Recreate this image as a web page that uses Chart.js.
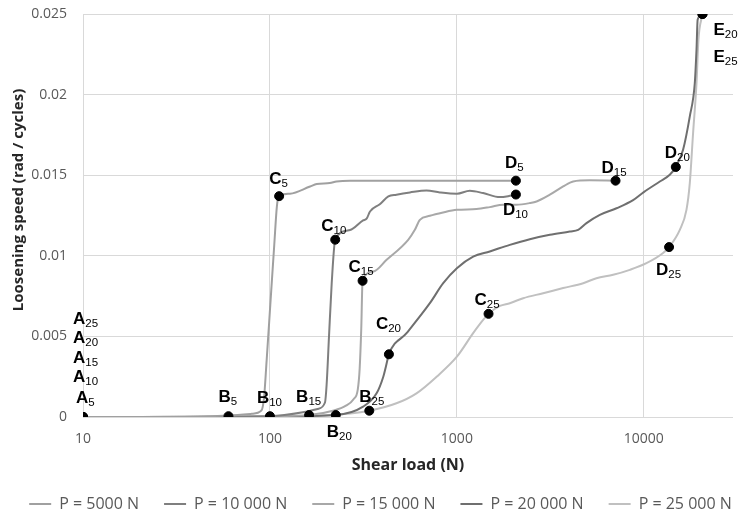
<!DOCTYPE html>
<html>
<head>
<meta charset="utf-8">
<script src="https://cdn.jsdelivr.net/npm/chart.js@4.4.1/dist/chart.umd.min.js"></script>
<style>
  html, body { margin: 0; padding: 0; background: #fff; }
</style>
</head>
<body>
<canvas id="loosening" width="741" height="515"></canvas>
<script>
/* data: shear load (N) vs loosening speed (rad / cycles) */
const seriesNames = ['P = 5000 N', 'P = 10 000 N', 'P = 15 000 N', 'P = 20 000 N', 'P = 25 000 N'];

const load5000 = [10, 30, 60, 80, 90, 93, 96, 100.5, 105.5, 109, 112, 128, 164, 178, 209, 227, 268, 500, 1000, 2069];
const speed5000 = [0, 0, 0.0001, 0.0002, 0.0004, 0.0012, 0.0035, 0.007, 0.0107, 0.0131, 0.0137, 0.01385, 0.0143, 0.01445, 0.01451, 0.01461, 0.01466, 0.01466, 0.01466, 0.01466];

const load10000 = [10, 20, 50, 100, 150, 180, 197, 201, 207, 214, 223.5, 268, 315, 329, 343, 387, 430, 475, 561, 688, 811, 1000, 1173, 1382, 1698, 1920, 2069];
const speed10000 = [0, 0, 0, 0.00005, 0.0003, 0.0005, 0.0009, 0.002, 0.005, 0.0083, 0.011, 0.0116, 0.0122, 0.0123, 0.01275, 0.0132, 0.01368, 0.01379, 0.01393, 0.01405, 0.01393, 0.01385, 0.01403, 0.01389, 0.01364, 0.01372, 0.0138];

const load15000 = [10, 20, 100, 162, 220, 255, 280, 295, 302, 308, 313, 357, 421, 549, 596, 634, 717, 845, 1000, 1274, 1500, 1769, 2080, 2455, 2670, 3143, 3704, 4190, 5142, 7060];
const speed15000 = [0, 0, 0.00005, 0.00012, 0.0004, 0.0007, 0.0011, 0.0017, 0.003, 0.0055, 0.00845, 0.00902, 0.00975, 0.01099, 0.01161, 0.01223, 0.01248, 0.01269, 0.01285, 0.0129, 0.01302, 0.01317, 0.01317, 0.01327, 0.01337, 0.01379, 0.0143, 0.01461, 0.01468, 0.01466];

const load20000 = [10, 20, 100, 225, 315, 372, 404, 417, 433, 538, 717, 845, 1000, 1222, 1500, 1920, 2455, 3143, 4020, 4456, 4935, 5817, 7145, 8766, 10000, 12180, 13770, 14830, 16220, 17620, 18740, 19140, 19410, 20600];
const speed20000 = [0, 0, 0.00003, 0.00012, 0.00064, 0.00147, 0.0025, 0.00312, 0.00389, 0.0052, 0.00706, 0.0083, 0.00923, 0.00995, 0.01027, 0.01068, 0.01103, 0.0113, 0.01151, 0.01161, 0.01203, 0.01254, 0.01295, 0.01345, 0.01395, 0.01461, 0.01503, 0.01551, 0.01658, 0.01865, 0.02072, 0.02279, 0.02465, 0.025];

const load25000 = [10, 20, 100, 200, 340, 475, 608, 779, 1000, 1222, 1382, 1477, 1698, 1920, 2263, 2894, 3704, 4738, 5578, 6854, 8414, 10330, 12680, 13650, 15580, 16910, 17620, 18350, 19140, 19600, 20600];
const speed25000 = [0, 0, 0.00003, 0.0001, 0.00039, 0.00085, 0.00147, 0.0025, 0.00374, 0.0052, 0.00602, 0.0064, 0.00689, 0.00706, 0.00737, 0.00768, 0.008, 0.0083, 0.00861, 0.00882, 0.00913, 0.00954, 0.01017, 0.01054, 0.01161, 0.01285, 0.01451, 0.01762, 0.02072, 0.02341, 0.025];

// marked points A..E with their subscripts
const keyLetters = ['A', 'A', 'A', 'A', 'A', 'B', 'B', 'B', 'B', 'B', 'C', 'C', 'C', 'C', 'C', 'D', 'D', 'D', 'D', 'D', 'E', 'E'];
const keySubs = ['5', '10', '15', '20', '25', '5', '10', '15', '20', '25', '5', '10', '15', '20', '25', '5', '10', '15', '20', '25', '20', '25'];
const keyLoads = [10, 10, 10, 10, 10, 60, 100, 162, 225, 340, 112, 223.5, 313, 433, 1477, 2069, 2069, 7060, 14830, 13650, 20600, 20600];
const keySpeeds = [0, 0, 0, 0, 0, 0.00005, 0.00005, 0.00012, 0.00012, 0.00039, 0.0137, 0.011, 0.00845, 0.00389, 0.0064, 0.01466, 0.0138, 0.01466, 0.01551, 0.01054, 0.025, 0.025];

const xTicks = [10, 100, 1000, 10000];
const yTicks = [0, 0.005, 0.01, 0.015, 0.02, 0.025];

/* styling */
const lineColors = ['#a0a0a0', '#7f7f7f', '#a8a8a8', '#6f6f6f', '#c0c0c0'];
// label offset from its dot: [dx to letter left, dy to baseline]
const labelOffsets = [
    [-7, -14], [-10, -35], [-10, -54], [-10, -74], [-10, -93],
    [-10, -14], [-13, -13], [-13, -13], [-9, 22], [-10, -9],
    [-10, -12], [-14, -9], [-14, -9], [-13, -25], [-14, -9],
    [-11, -13], [-13, 20], [-14, -8], [-11, -9], [-13, 28],
    [11, 21], [11, 48]
];

function zipXY(xs, ys) {
    return xs.map((v, i) => ({x: v, y: ys[i]}));
}

const loads = [load5000, load10000, load15000, load20000, load25000];
const speeds = [speed5000, speed10000, speed15000, speed20000, speed25000];

const datasets = seriesNames.map((name, i) => ({
    type: 'line',
    label: name,
    data: zipXY(loads[i], speeds[i]),
    borderColor: lineColors[i],
    backgroundColor: lineColors[i],
    borderWidth: 2,
    pointRadius: 0,
    pointBorderWidth: 2,
    cubicInterpolationMode: 'monotone',
    order: 0
}));

datasets.push({
    type: 'scatter',
    label: 'points',
    data: zipXY(keyLoads, keySpeeds),
    pointRadius: 4.5,
    backgroundColor: '#000',
    borderColor: '#000',
    order: -1
});

/* letters with subscripts next to the dots */
const pointLabels = {
    id: 'pointLabels',
    afterDatasetsDraw(chart) {
        const {ctx, scales: {x, y}} = chart;
        ctx.save();
        ctx.fillStyle = '#000';
        ctx.textAlign = 'left';
        ctx.textBaseline = 'alphabetic';
        keyLetters.forEach((letter, i) => {
            const px = x.getPixelForValue(keyLoads[i]) + labelOffsets[i][0];
            const py = y.getPixelForValue(keySpeeds[i]) + labelOffsets[i][1];
            ctx.font = 'bold 17px "Liberation Sans", Arial, sans-serif';
            ctx.fillText(letter, px, py);
            const w = ctx.measureText(letter).width;
            ctx.font = '11.5px "Liberation Sans", Arial, sans-serif';
            ctx.fillText(keySubs[i], px + w, py + 3);
        });
        ctx.restore();
    }
};

/* y title drawn by hand so it sits where the original has it */
const yTitle = {
    id: 'yTitle',
    afterDraw(chart) {
        const ctx = chart.ctx;
        ctx.save();
        ctx.translate(18.5, 200);
        ctx.rotate(-Math.PI / 2);
        ctx.textAlign = 'center';
        ctx.textBaseline = 'middle';
        ctx.fillStyle = '#262626';
        ctx.font = 'bold 15px "Open Sans", sans-serif';
        ctx.fillText('Loosening speed (rad / cycles)', 0, 0);
        ctx.restore();
    }
};

new Chart(document.getElementById('loosening'), {
    data: {datasets: datasets},
    options: {
        responsive: false,
        devicePixelRatio: 1,
        animation: false,
        events: [],
        // negative right padding widens the legend row; yRight keeps the plot edge
        layout: {padding: {left: 0, right: -20, top: 14, bottom: -7}},
        scales: {
            x: {
                type: 'logarithmic',
                min: 10,
                max: 30000,
                afterBuildTicks: (scale) => { scale.ticks = xTicks.map(v => ({value: v})); },
                afterFit: (scale) => { scale.height = 54; },
                grid: {color: '#d9d9d9', drawTicks: false},
                border: {display: false},
                ticks: {
                    padding: 14,
                    color: '#595959',
                    font: {family: 'Open Sans', size: 14},
                    maxRotation: 0,
                    callback: (v) => String(v)
                },
                title: {
                    display: true,
                    text: 'Shear load (N)',
                    color: '#262626',
                    font: {family: 'Open Sans', size: 16, weight: 'bold'},
                    padding: {top: 0, bottom: -4}
                }
            },
            y: {
                type: 'linear',
                min: 0,
                max: 0.025,
                afterBuildTicks: (scale) => { scale.ticks = yTicks.map(v => ({value: v})); },
                afterFit: (scale) => {
                    scale.width = 83;
                    scale.paddingTop = 0;
                    scale.paddingBottom = 0;
                },
                grid: {color: '#d9d9d9', drawTicks: false},
                border: {display: false},
                ticks: {
                    padding: 16,
                    color: '#595959',
                    font: {family: 'Open Sans', size: 14},
                    callback: (v) => String(+v.toFixed(3))
                }
            },
            yRight: {
                type: 'linear',
                position: 'right',
                afterFit: (scale) => { scale.width = 28; },
                grid: {display: false},
                border: {display: false},
                ticks: {display: false}
            }
        },
        plugins: {
            legend: {
                position: 'bottom',
                labels: {
                    usePointStyle: true,
                    pointStyle: 'line',
                    pointStyleWidth: 22,
                    padding: 25,
                    color: '#595959',
                    font: {family: 'Open Sans', size: 16},
                    filter: (item) => item.datasetIndex < seriesNames.length
                }
            },
            tooltip: {enabled: false}
        }
    },
    plugins: [pointLabels, yTitle]
});
</script>
</body>
</html>
